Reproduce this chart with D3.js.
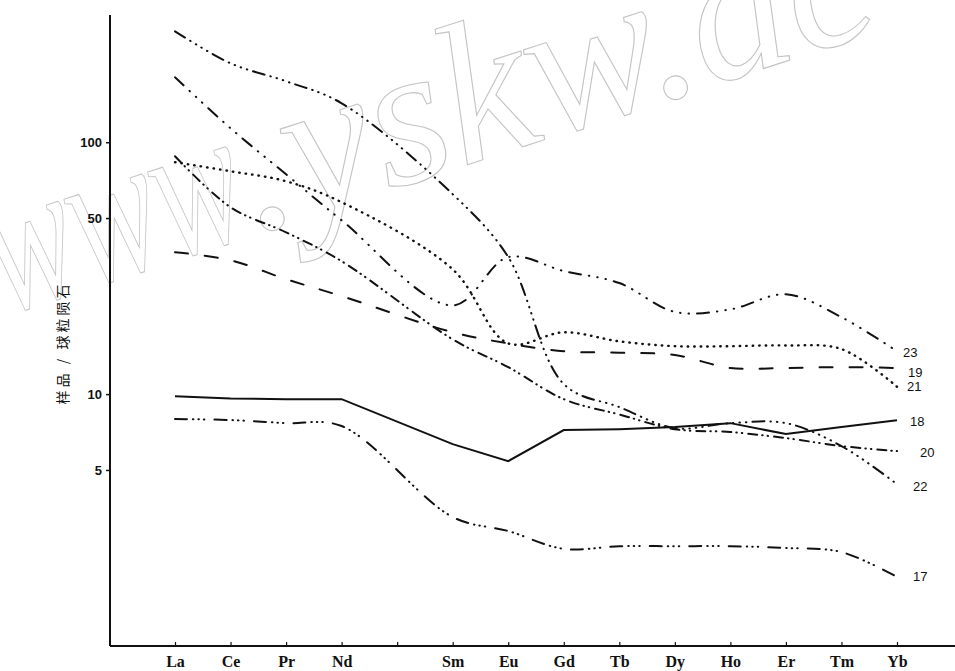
<!DOCTYPE html>
<html><head><meta charset="utf-8">
<script src="https://cdn.jsdelivr.net/npm/d3@7"></script>
<style>body{margin:0;background:#fff}svg{display:block}</style>
</head><body><div id="chart"></div>
<script>
// ---- data ----
const elements = ["La","Ce","Pr","Nd","Pm","Sm","Eu","Gd","Tb","Dy","Ho","Er","Tm","Yb"];
const ree = ["La","Ce","Pr","Nd","Sm","Eu","Gd","Tb","Dy","Ho","Er","Tm","Yb"];
const yTicks = [5, 10, 50, 100];
const yLabel = "样品 / 球粒陨石";
const watermarkParts = ["www", ".yskw.ac"];
const seriesNames = ["17","18","19","20","21","22","23"];
const s17 = [7.96, 7.89, 7.67, 7.47, 3.25, 2.86, 2.43, 2.49, 2.49, 2.49, 2.45, 2.36, 1.88];
const s18 = [9.8, 9.6, 9.55, 9.55, 6.33, 5.42, 7.2, 7.26, 7.4, 7.67, 6.94, 7.4, 7.88];
const s19 = [36.6, 34.0, 28.6, 24.5, 17.6, 15.9, 14.8, 14.6, 14.3, 12.7, 12.7, 12.8, 12.7];
const s20 = [88.0, 55.2, 43.9, 33.7, 16.5, 12.8, 9.55, 8.3, 7.26, 7.07, 6.69, 6.22, 5.94];
const s21 = [83.3, 76.7, 70.0, 57.8, 31.3, 15.9, 17.6, 16.2, 15.5, 15.5, 15.6, 15.1, 10.7];
const s22 = [275.7, 205.8, 174.6, 142.8, 62.2, 35.0, 10.96, 8.88, 7.33, 7.67, 7.67, 6.22, 4.39];
const s23 = [181, 113.6, 74.6, 49.0, 22.5, 35.0, 30.8, 27.6, 21.2, 21.7, 24.9, 20.2, 14.8];
const seriesValues = [s17, s18, s19, s20, s21, s22, s23];

// ---- styles ----
const dashStyles = {
  "17": "12,6,0.5,5,0.5,5,0.5,10",
  "18": null,
  "19": "13,17",
  "20": "9,5,0.5,5,0.5,6",
  "21": "0.5,6",
  "22": "12,6,0.5,6,0.5,6,0.5,6,0.5,6",
  "23": "12,8,0.5,8,0.5,8,0.5,8"
};
const labelOffset = {"17":[16,0],"18":[13,1],"19":[11,4],"20":[23,1],"21":[10,0],"22":[16,2],"23":[6,1]};

const W = 955, H = 671;
const svg = d3.select("#chart").append("svg").attr("width", W).attr("height", H);

// watermark (faint outlined text)
const wm = svg.append("g").attr("transform", "translate(5,315) rotate(-18)")
  .attr("font-family", "Liberation Serif").attr("font-style", "italic").attr("font-size", 200)
  .attr("fill", "none").attr("stroke", "#c4c4c4").attr("stroke-width", 1.1);
wm.append("text").attr("transform", "scale(0.66,1)").text(watermarkParts[0]);
wm.append("text").attr("transform", "translate(264,0)").text(watermarkParts[1]);

const x = d3.scalePoint().domain(elements).range([175, 897]);
const y = d3.scaleLog().domain([1, 320]).range([646, 15]);

// x axis
const xAxis = d3.axisBottom(x).tickSize(-4).tickPadding(10).tickFormat(d => d === "Pm" ? "" : d);
const gx = svg.append("g").attr("transform", "translate(0,646)").call(xAxis);
gx.select(".domain").remove();
svg.append("line").attr("x1", 110).attr("x2", 955).attr("y1", 646).attr("y2", 646)
  .attr("stroke", "#111").attr("stroke-width", 1.8);
gx.selectAll("line").attr("stroke", "#111").attr("stroke-width", 1.2);
gx.selectAll("text").attr("font-family", "Liberation Serif").attr("font-weight", "bold")
  .attr("font-size", 16).attr("fill", "#111");

// y axis
const yAxis = d3.axisLeft(y).tickValues(yTicks).tickSize(4).tickPadding(4).tickFormat(d3.format("d"));
const gy = svg.append("g").attr("transform", "translate(110,0)").call(yAxis);
gy.select(".domain").remove();
svg.append("line").attr("x1", 110).attr("x2", 110).attr("y1", 15).attr("y2", 646)
  .attr("stroke", "#111").attr("stroke-width", 2);
gy.selectAll("line").attr("stroke", "#111").attr("stroke-width", 1.5);
gy.selectAll("text").attr("font-family", "Liberation Sans").attr("font-weight", "bold")
  .attr("font-size", 13).attr("fill", "#111");

svg.append("text")
  .attr("transform", "translate(68,343) rotate(-90)")
  .attr("text-anchor", "middle").attr("font-family", "Noto Sans CJK SC")
  .attr("font-size", 14).attr("letter-spacing", 3).attr("fill", "#111").text(yLabel);

// lines
const series = seriesNames.map((n, i) => ({name: n, values: seriesValues[i].map((v, j) => ({el: ree[j], v}))}));
const lineCurve = d3.line().x(d => x(d.el)).y(d => y(d.v)).curve(d3.curveCatmullRom.alpha(0.5));
const lineStraight = d3.line().x(d => x(d.el)).y(d => y(d.v));

svg.append("g").selectAll("path").data(series).join("path")
  .attr("d", d => d.name === "18" ? lineStraight(d.values) : lineCurve(d.values))
  .attr("fill", "none").attr("stroke", "#111")
  .attr("stroke-width", d => d.name === "21" ? 2.4 : 2)
  .attr("stroke-linecap", d => dashStyles[d.name] ? "round" : "butt")
  .attr("stroke-dasharray", d => dashStyles[d.name]);

svg.append("g").selectAll("text").data(series).join("text")
  .attr("x", d => x("Yb") + labelOffset[d.name][0])
  .attr("y", d => y(d.values[d.values.length - 1].v) + labelOffset[d.name][1])
  .attr("dy", "0.35em")
  .attr("font-family", "Liberation Sans").attr("font-size", 13).attr("fill", "#111")
  .text(d => d.name);
</script></body></html>
